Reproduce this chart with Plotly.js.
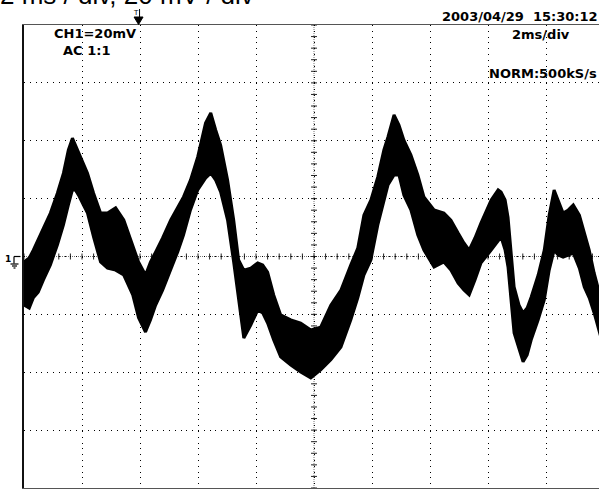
<!DOCTYPE html>
<html>
<head>
<meta charset="utf-8">
<script src="https://cdn.plot.ly/plotly-3.0.1.min.js"></script>
<style>
  html, body { margin: 0; padding: 0; background: #fff; overflow: hidden; }
  #chart { width: 610px; height: 489px; }
</style>
</head>
<body>
<div id="chart"></div>
<script>
// ---- Data (time in ms, 2 ms/div; voltage in mV, 20 mV/div) ----
const time_ms = [0, 0.18, 0.32, 0.49, 0.67, 0.91, 1.15, 1.36, 1.53, 1.67, 1.77, 1.88, 2.05, 2.19, 2.40, 2.64, 2.88, 3.16, 3.44, 3.75, 3.95, 4.19, 4.36, 4.54, 4.78, 5.06, 5.30, 5.50, 5.74, 5.99, 6.26, 6.44, 6.61, 6.78, 7.02, 7.23, 7.40, 7.58, 7.82, 8.06, 8.23, 8.40, 8.61, 8.85, 9.20, 9.54, 9.89, 10.23, 10.58, 10.93, 11.27, 11.51, 11.72, 11.96, 12.20, 12.41, 12.55, 12.76, 12.93, 13.10, 13.34, 13.58, 13.79, 14.14, 14.48, 14.72, 14.97, 15.17, 15.35, 15.55, 15.76, 16.11, 16.35, 16.45, 16.59, 16.69, 16.90, 17.07, 17.21, 17.35, 17.49, 17.73, 17.94, 18.11, 18.28, 18.42, 18.59, 18.77, 18.94, 19.15, 19.32, 19.49, 19.66, 19.87, 20];

const upper_mV = [-1.9, -0.5, 2.2, 5.7, 9.8, 15.0, 21.9, 28.8, 36.8, 40.9, 38.5, 36.1, 32.3, 28.8, 21.9, 15.0, 15.0, 16.8, 12.6, 4.0, -1.9, -6.4, -1.9, 1.6, 6.4, 12.6, 16.8, 20.6, 26.4, 34.4, 46.1, 49.6, 43.7, 38.5, 26.4, 12.6, -1.2, -4.7, -4.0, -2.2, -2.9, -5.4, -13.3, -20.2, -21.9, -23.0, -25.4, -24.4, -16.8, -11.6, -2.9, 2.9, 14.3, 19.5, 27.5, 36.8, 41.3, 48.9, 45.4, 40.2, 35.1, 28.2, 20.6, 16.1, 15.0, 12.6, 8.1, 4.7, 2.2, 6.4, 11.6, 19.5, 23.0, 22.3, 19.5, 13.6, -10.5, -16.8, -19.5, -17.8, -14.0, -6.4, 2.2, 14.3, 23.0, 19.5, 15.0, 16.1, 17.8, 14.3, 8.1, 2.2, -5.7, -13.3, -18.5];

const lower_mV = [-16.8, -17.8, -14.3, -12.3, -8.1, -2.9, 4.0, 10.9, 17.8, 23.0, 23.0, 21.2, 17.8, 15.0, 6.7, -1.9, -4.0, -4.7, -6.4, -13.3, -21.2, -26.1, -21.9, -16.8, -11.6, -4.7, 1.6, 7.4, 16.1, 23.0, 27.1, 28.8, 26.4, 22.3, 12.6, -1.9, -15.0, -28.2, -23.7, -18.5, -19.5, -23.0, -28.8, -34.7, -37.5, -39.9, -42.0, -39.2, -35.7, -31.3, -21.9, -14.3, -6.4, -1.2, 10.9, 19.5, 24.7, 28.2, 28.2, 21.2, 16.1, 7.4, 2.2, -3.6, -1.9, -4.7, -9.2, -11.6, -13.3, -8.1, -2.2, 2.2, 5.7, 6.7, 2.2, -3.6, -26.4, -32.3, -36.4, -34.0, -28.8, -21.9, -15.0, -4.7, 2.2, 0.5, -0.2, 0.5, 1.2, -4.0, -10.5, -14.3, -19.5, -27.1, -30.6];

// ---- Screen texts ----
const headerText = "2 ms / div, 20 mV / div";
const channelLines = ["CH1=20mV", "\u00a0\u00a0AC 1:1"];
const dateText = "2003/04/29  15:30:12";
const timebaseText = "2ms/div";
const modeText = "NORM:500kS/s";
const groundLabel = "1";
const triggerLabel = "T";
const triggerTime_ms = 3.95;

const timeRange = [0, 20];
const voltRange = [-80, 80];
const timeDiv = 2, voltDiv = 20, subDivs = 5;

// ---- Geometry helpers (pixel placement of screen decorations) ----
const W = 610, H = 489, ML = 24, MR = 6, MT = 25, MB = 1;
const PW = W - ML - MR, PH = H - MT - MB;
const px2paperX = px => (px - ML) / PW;
const py2paperY = py => (H - MB - py) / PH;

const traces = [
  { x: time_ms, y: lower_mV, mode: 'lines', line: { color: '#000', width: 3 },
    hoverinfo: 'skip', showlegend: false },
  { x: time_ms, y: upper_mV, mode: 'lines', fill: 'tonexty', fillcolor: '#000',
    line: { color: '#000', width: 3 }, hoverinfo: 'skip', showlegend: false }
];

const shapes = [];
const midT = (timeRange[0] + timeRange[1]) / 2;
shapes.push({ type: 'line', xref: 'x', yref: 'paper', x0: midT, x1: midT, y0: 0, y1: 1,
  line: { color: '#777', width: 1, dash: '1px,1px' }, layer: 'below' });
shapes.push({ type: 'line', xref: 'paper', yref: 'y', x0: 0, x1: 1, y0: 0, y1: 0,
  line: { color: '#777', width: 1, dash: '1px,1px' }, layer: 'below' });
for (let t = timeRange[0]; t <= timeRange[1] + 1e-9; t += timeDiv / subDivs) {
  shapes.push({ type: 'line', xref: 'x', yref: 'paper', ysizemode: 'pixel', yanchor: 0.5,
    x0: t, x1: t, y0: -3, y1: 3, line: { color: '#222', width: 1 }, layer: 'below' });
}
for (let v = voltRange[0]; v <= voltRange[1] + 1e-9; v += voltDiv / subDivs) {
  shapes.push({ type: 'line', xref: 'paper', yref: 'y', xsizemode: 'pixel', xanchor: 0.5,
    x0: -3, x1: 3, y0: v, y1: v, line: { color: '#222', width: 1 }, layer: 'below' });
}
const gnd = [
  [-10, -3.5, 0, 0], [-10, -10, 0, -7], [-13.5, -5.5, -7.5, -7.5], [-12, -7, -9.5, -9.5], [-10.5, -8.5, -11.5, -11.5]
];
gnd.forEach(g => shapes.push({ type: 'line', xref: 'paper', yref: 'y', xsizemode: 'pixel', ysizemode: 'pixel',
  xanchor: 0, yanchor: 0, x0: g[0], x1: g[1], y0: g[2], y1: g[3], line: { color: '#000', width: 1.2 } }));
shapes.push({ type: 'path', xref: 'x', yref: 'paper', xsizemode: 'pixel', ysizemode: 'pixel',
  xanchor: triggerTime_ms, yanchor: 1, path: 'M -4.5 8 L 4.5 8 L 0 0.5 Z',
  fillcolor: '#000', line: { color: '#000', width: 1 } });
shapes.push({ type: 'line', xref: 'x', yref: 'paper', xsizemode: 'pixel', ysizemode: 'pixel',
  xanchor: triggerTime_ms, yanchor: 1, x0: 1, x1: 1, y0: 8, y1: 16, line: { color: '#000', width: 1 } });

const txtFont = { family: 'DejaVu Sans', size: 13, color: '#000', weight: 'bold' };
const annotations = [
  { text: headerText, xref: 'paper', yref: 'paper', x: px2paperX(-1), y: py2paperY(-5.5),
    xanchor: 'left', yanchor: 'middle', showarrow: false, borderpad: 0,
    font: { family: 'Liberation Sans', size: 26, color: '#000' } },
  { text: channelLines.join('<br>'), xref: 'paper', yref: 'paper', x: px2paperX(52), y: py2paperY(41.5),
    xanchor: 'left', yanchor: 'middle', align: 'left', showarrow: false, font: txtFont },
  { text: dateText, xref: 'paper', yref: 'paper', x: px2paperX(600), y: py2paperY(16.3),
    xanchor: 'right', yanchor: 'middle', showarrow: false, font: txtFont },
  { text: timebaseText, xref: 'paper', yref: 'paper', x: px2paperX(572), y: py2paperY(34),
    xanchor: 'right', yanchor: 'middle', showarrow: false, font: txtFont },
  { text: modeText, xref: 'paper', yref: 'paper', x: px2paperX(599), y: py2paperY(73),
    xanchor: 'right', yanchor: 'middle', showarrow: false, font: txtFont },
  { text: groundLabel, xref: 'paper', yref: 'paper', x: px2paperX(8), y: py2paperY(259),
    xanchor: 'center', yanchor: 'middle', showarrow: false,
    font: { family: 'DejaVu Sans', size: 9, color: '#000', weight: 'bold' } },
  { text: triggerLabel, xref: 'x', yref: 'paper', x: triggerTime_ms, y: py2paperY(13), xshift: -3,
    xanchor: 'center', yanchor: 'middle', showarrow: false, borderpad: 0,
    font: { family: 'DejaVu Sans', size: 7, color: '#000' } }
];

const layout = {
  width: W, height: H,
  margin: { l: ML, r: MR, t: MT, b: MB, pad: 0 },
  paper_bgcolor: '#fff', plot_bgcolor: '#fff',
  showlegend: false,
  xaxis: { range: timeRange, dtick: timeDiv, tick0: 0, showticklabels: false, ticks: '',
    showgrid: true, gridcolor: '#000', gridwidth: 1, griddash: '1px,4.8px',
    zeroline: false, showline: true, mirror: true, linecolor: '#555', linewidth: 1.5, fixedrange: true },
  yaxis: { range: voltRange, dtick: voltDiv, tick0: 0, showticklabels: false, ticks: '',
    showgrid: true, gridcolor: '#000', gridwidth: 1, griddash: '1px,4.8px',
    zeroline: false, showline: true, mirror: true, linecolor: '#111', linewidth: 2, fixedrange: true },
  shapes: shapes,
  annotations: annotations
};

Plotly.newPlot('chart', traces, layout, { displayModeBar: false, staticPlot: true });
</script>
</body>
</html>
